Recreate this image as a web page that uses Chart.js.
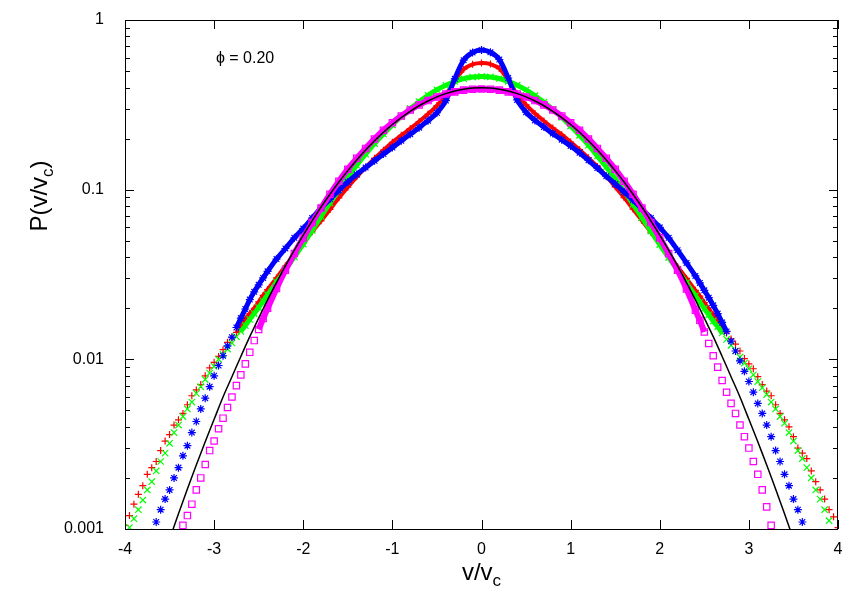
<!DOCTYPE html>
<html>
<head>
<meta charset="utf-8">
<script src="https://cdn.jsdelivr.net/npm/chart.js@4.4.1/dist/chart.umd.min.js"></script>
<style>
  body { margin: 0; background: #fff; }
  #wrap { width: 856px; height: 599px; }
</style>
</head>
<body>
<div id="wrap"><canvas id="grafico" width="856" height="599"></canvas></div>
<script>
// v/vc grid, -4 .. 4 in steps of 0.1
const vGrid = [-4.0,-3.9,-3.8,-3.7,-3.6,-3.5,-3.4,-3.3,-3.2,-3.1,-3.0,-2.9,-2.8,-2.7,-2.6,-2.5,-2.4,-2.3,-2.2,-2.1,
  -2.0,-1.9,-1.8,-1.7,-1.6,-1.5,-1.4,-1.3,-1.2,-1.1,-1.0,-0.9,-0.8,-0.7,-0.6,-0.5,-0.4,-0.3,-0.2,-0.1,
  0.0,0.1,0.2,0.3,0.4,0.5,0.6,0.7,0.8,0.9,1.0,1.1,1.2,1.3,1.4,1.5,1.6,1.7,1.8,1.9,
  2.0,2.1,2.2,2.3,2.4,2.5,2.6,2.7,2.8,2.9,3.0,3.1,3.2,3.3,3.4,3.5,3.6,3.7,3.8,3.9,4.0];

// extra samples in the tails (half steps)
const vTail = [-3.95,-3.85,-3.75,-3.65,-3.55,-3.45,-3.35,-3.25,-3.15,-3.05,-2.95,-2.85,-2.75,-2.65,-2.55,-2.45,
  2.45,2.55,2.65,2.75,2.85,2.95,3.05,3.15,3.25,3.35,3.45,3.55,3.65,3.75,3.85,3.95];

// red (+)
const pRed = [0.00105,0.0014,0.0018,0.0023,0.0029,0.0036,0.0044,0.0054,0.0066,0.0080,0.0096,0.0114,0.0134,0.0158,0.0186,0.0218,0.0258,0.0302,0.0355,0.0415,
  0.0485,0.0565,0.0655,0.0765,0.0895,0.1035,0.119,0.1355,0.153,0.171,0.19,0.209,0.229,0.252,0.279,0.313,0.362,0.437,0.513,0.548,
  0.558,0.550,0.517,0.441,0.366,0.316,0.281,0.254,0.231,0.211,0.191,0.172,0.154,0.137,0.120,0.104,0.0898,0.0768,0.0658,0.0562,
  0.0482,0.0412,0.0352,0.0300,0.0255,0.0216,0.0183,0.0156,0.0132,0.0112,0.0094,0.0079,0.0065,0.0054,0.0044,0.0035,0.0028,0.0022,0.0017,0.0013,0.00102];
const tRed = [0.0012,0.0016,0.0021,0.0025,0.0033,0.0041,0.0048,0.0061,0.0071,0.0089,0.0104,0.0126,0.0144,0.0173,0.0200,0.0238,
  0.0236,0.0198,0.0170,0.0143,0.0123,0.0101,0.0088,0.0071,0.0061,0.0048,0.0040,0.0030,0.0026,0.0019,0.0015,0.00118];

// green (x)
const pGreen = [null,0.00115,0.00148,0.0019,0.0025,0.0032,0.0041,0.0051,0.0063,0.0076,0.0091,0.0107,0.0125,0.0146,0.0172,0.0202,0.0240,0.0285,0.0338,0.0402,
  0.0478,0.0575,0.0695,0.0835,0.0995,0.1185,0.1395,0.162,0.187,0.213,0.241,0.270,0.300,0.330,0.360,0.388,0.412,0.434,0.451,0.461,
  0.465,0.462,0.452,0.435,0.413,0.387,0.358,0.328,0.297,0.267,0.237,0.209,0.183,0.158,0.136,0.116,0.098,0.082,0.0685,0.057,
  0.0475,0.0398,0.0335,0.0282,0.0237,0.0199,0.0168,0.0143,0.0121,0.0103,0.0088,0.0074,0.0062,0.0051,0.0042,0.0033,0.0026,0.0020,0.0015,0.00112,null];
const tGreen = [0.00102,0.0013,0.0017,0.0022,0.0028,0.0037,0.0046,0.0056,0.0069,0.0083,0.0100,0.0115,0.0136,0.0158,0.0186,0.0220,
  0.0217,0.0183,0.0156,0.0131,0.0112,0.0095,0.0081,0.0068,0.0056,0.0046,0.0037,0.0029,0.0023,0.0017,0.0013,null];

// blue (*)
const pBlue = [null,null,null,0.00095,0.0013,0.0017,0.0023,0.0031,0.0043,0.0059,0.0080,0.0105,0.0135,0.0175,0.0225,0.0275,0.033,0.039,0.045,0.052,
  0.059,0.068,0.078,0.088,0.099,0.111,0.123,0.135,0.148,0.162,0.177,0.194,0.212,0.232,0.255,0.284,0.335,0.45,0.58,0.643,
  0.665,0.645,0.585,0.455,0.338,0.286,0.256,0.234,0.214,0.197,0.181,0.165,0.149,0.134,0.120,0.108,0.097,0.087,0.077,0.068,
  0.060,0.052,0.044,0.037,0.031,0.0255,0.0208,0.0165,0.0128,0.0098,0.0074,0.0055,0.0041,0.0029,0.0021,0.0015,0.0011,null,null,null,null];
const tBlue = [null,null,null,0.0011,0.0015,0.0020,0.0027,0.0037,0.0051,0.0069,0.0092,0.0120,0.0154,0.0198,0.0250,0.0302,
  0.0282,0.0231,0.0186,0.0146,0.0112,0.0085,0.0064,0.0048,0.0035,0.0025,0.0018,0.0013,null,null,null,null];

// magenta (open squares)
const pMagenta = [null,null,null,null,null,null,null,0.0012,0.0017,0.0024,0.0033,0.0045,0.0060,0.0081,0.0110,0.0150,0.0200,0.0262,0.0335,0.042,
  0.052,0.064,0.078,0.094,0.112,0.132,0.153,0.175,0.199,0.224,0.248,0.272,0.295,0.316,0.335,0.352,0.366,0.377,0.386,0.391,
  0.392,0.391,0.386,0.377,0.366,0.352,0.335,0.316,0.295,0.272,0.248,0.224,0.199,0.175,0.153,0.132,0.112,0.094,0.078,0.064,
  0.052,0.042,0.0335,0.026,0.0195,0.0145,0.0105,0.0075,0.0055,0.0041,0.0030,0.0021,0.00135,0.00092,null,null,null,null,null,null,null];
const tMagenta = [null,null,null,null,null,null,0.00105,0.0014,0.0020,0.0029,0.0039,0.0052,0.0070,0.0094,0.0129,0.0174,
  0.0170,0.0124,0.0090,0.0064,0.0048,0.0035,0.0025,0.0017,0.00105,null,null,null,null,null,null,null];

// black reference curve
const pRef = [null,null,null,null,null,0.00087,0.00123,0.00172,0.00238,0.00327,0.00443,0.0060,0.0079,0.0104,0.0136,0.0175,0.0224,0.0283,0.0355,0.0440,
  0.0540,0.0656,0.0790,0.0940,0.1109,0.1295,0.1497,0.1714,0.1942,0.2179,0.2420,0.2661,0.2897,0.3123,0.3332,0.3521,0.3683,0.3814,0.3910,0.3970,
  0.3989,0.3970,0.3910,0.3814,0.3683,0.3521,0.3332,0.3123,0.2897,0.2661,0.2420,0.2179,0.1942,0.1714,0.1497,0.1295,0.1109,0.0940,0.0790,0.0656,
  0.0540,0.0440,0.0355,0.0283,0.0224,0.0175,0.0136,0.0104,0.0079,0.0060,0.00443,0.00327,0.00238,0.00172,0.00123,0.00087,null,null,null,null,null];

const xTicks = [-4, -3, -2, -1, 0, 1, 2, 3, 4];
const yTicks = [0.001, 0.01, 0.1, 1];
const annotation = 'ϕ = 0.20';

const FONT = '"Liberation Sans", Arial, Helvetica, sans-serif';

function pts(arr, tail) {
  const a = vGrid.map((v, i) => ({ x: v, y: arr[i] }));
  const b = tail ? vTail.map((v, i) => ({ x: v, y: tail[i] })) : [];
  return a.concat(b).filter(p => p.y !== null).sort((p, q) => p.x - q.x);
}

function serie(arr, tail, color, style, radius, width, order) {
  return {
    data: pts(arr, tail),
    borderColor: color,
    backgroundColor: 'transparent',
    borderWidth: width,
    pointStyle: style,
    pointRadius: radius,
    pointBorderWidth: 1.2,
    pointBorderColor: color,
    pointBackgroundColor: 'transparent',
    tension: 0.3,
    order: order,
    segment: {
      // tails are drawn as loose markers only
      borderColor: ctx => (ctx.p1.parsed.y < 0.014 || ctx.p0.parsed.y < 0.014) ? 'transparent' : color
    }
  };
}

const moldura = {
  id: 'moldura',
  afterDraw(chart) {
    const { ctx, chartArea: a, scales: { x, y } } = chart;
    ctx.save();
    ctx.strokeStyle = '#000';
    ctx.lineWidth = 1;
    ctx.strokeRect(a.left + 0.5, a.top + 0.5, a.width - 1, a.height);
    ctx.beginPath();
    xTicks.forEach(t => {
      const px = Math.round(x.getPixelForValue(t)) + 0.5;
      ctx.moveTo(px, a.bottom); ctx.lineTo(px, a.bottom - 9);
      ctx.moveTo(px, a.top); ctx.lineTo(px, a.top + 9);
    });
    for (let d = 0; d < yTicks.length; d++) {
      for (let m = 1; m <= 9; m++) {
        const val = yTicks[d] * m;
        if (val > 1.0001) break;
        const py = Math.round(y.getPixelForValue(val)) + 0.5;
        const len = m === 1 ? 9 : 5;
        ctx.moveTo(a.left, py); ctx.lineTo(a.left + len, py);
        ctx.moveTo(a.right, py); ctx.lineTo(a.right - len, py);
      }
    }
    ctx.stroke();

    // annotation
    ctx.fillStyle = '#000';
    ctx.font = '16px ' + FONT;
    ctx.textAlign = 'left';
    ctx.textBaseline = 'middle';
    ctx.fillText(annotation, x.getPixelForValue(-2.98), y.getPixelForValue(0.59));

    // axis titles with subscript
    const big = '24px ' + FONT, small = '17px ' + FONT;
    function withSub(cx, base, pre, sub, post) {
      ctx.font = big; const w1 = ctx.measureText(pre).width; const w3 = ctx.measureText(post).width;
      ctx.font = small; const w2 = ctx.measureText(sub).width;
      let sx = cx - (w1 + w2 + w3) / 2;
      ctx.textAlign = 'left'; ctx.textBaseline = 'alphabetic';
      ctx.font = big; ctx.fillText(pre, sx, base); sx += w1;
      ctx.font = small; ctx.fillText(sub, sx, base + 6); sx += w2;
      ctx.font = big; ctx.fillText(post, sx, base);
    }
    withSub((a.left + a.right) / 2, 580, 'v/v', 'c', '');
    ctx.translate(47, 196);
    ctx.rotate(-Math.PI / 2);
    withSub(0, 0, 'P(v/v', 'c', ')');
    ctx.restore();
  }
};

const config = {
  type: 'line',
  data: {
    datasets: [
      serie(pRef, null, '#000000', false, 0, 1.5, 0),
      serie(pMagenta, tMagenta, '#ff00ff', 'rect', 4.5, 6, 1),
      serie(pBlue, tBlue, '#0000ff', 'star', 4, 5, 2),
      serie(pGreen, tGreen, '#00ff00', 'crossRot', 4.5, 5, 3),
      serie(pRed, tRed, '#ff0000', 'cross', 3.5, 4, 4)
    ]
  },
  options: {
    responsive: false,
    animation: false,
    events: [],
    layout: { autoPadding: false, padding: { left: 0, top: 20, right: 18, bottom: 0 } },
    plugins: { legend: { display: false }, tooltip: { enabled: false } },
    scales: {
      x: {
        type: 'linear', min: -4, max: 4,
        grid: { display: false }, border: { display: false },
        afterBuildTicks: s => { s.ticks = xTicks.map(v => ({ value: v })); },
        afterFit: s => { s.height = 70; s.paddingLeft = 0; s.paddingRight = 0; },
        ticks: { color: '#000', font: { family: FONT, size: 16 }, padding: 3, maxRotation: 0, autoSkip: false,
          callback: v => String(v) }
      },
      y: {
        type: 'logarithmic', min: 0.001, max: 1,
        grid: { display: false }, border: { display: false },
        afterBuildTicks: s => { s.ticks = yTicks.map(v => ({ value: v })); },
        afterFit: s => { s.width = 125; s.paddingTop = 0; s.paddingBottom = 0; },
        ticks: { color: '#000', font: { family: FONT, size: 16 }, padding: 13, autoSkip: false,
          callback: v => String(v) }
      }
    }
  },
  plugins: [moldura]
};

// black curve: plain line throughout, no markers
config.data.datasets[0].segment = {};

var myChart = new Chart(document.getElementById('grafico'), config);
</script>
</body>
</html>
